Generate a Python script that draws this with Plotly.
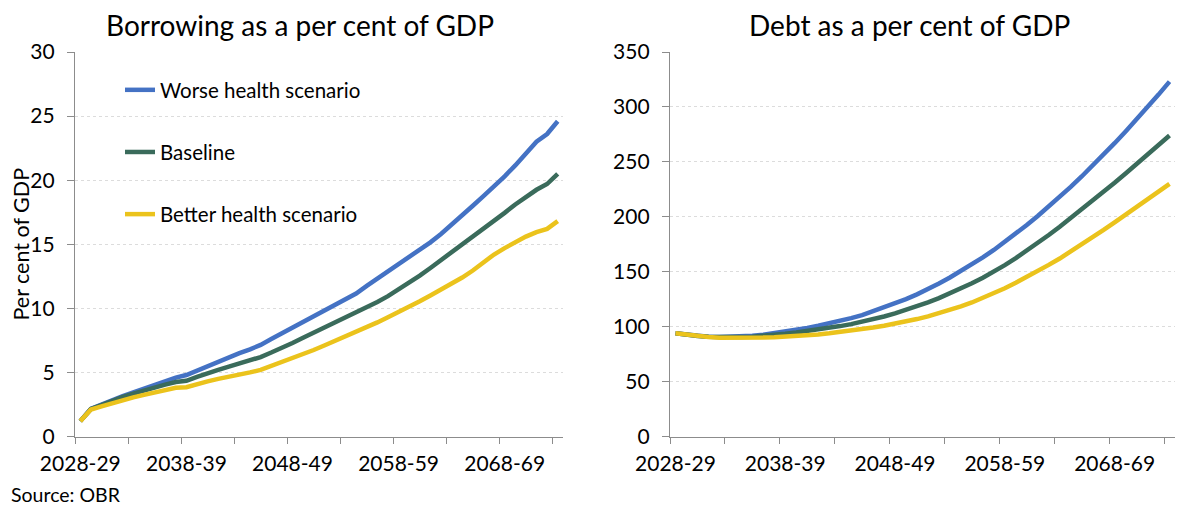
import plotly.graph_objects as go

years = ["2028-29", "2029-30", "2030-31", "2031-32", "2032-33", "2033-34", "2034-35", "2035-36",
         "2036-37", "2037-38", "2038-39", "2039-40", "2040-41", "2041-42", "2042-43", "2043-44",
         "2044-45", "2045-46", "2046-47", "2047-48", "2048-49", "2049-50", "2050-51", "2051-52",
         "2052-53", "2053-54", "2054-55", "2055-56", "2056-57", "2057-58", "2058-59", "2059-60",
         "2060-61", "2061-62", "2062-63", "2063-64", "2064-65", "2065-66", "2066-67", "2067-68",
         "2068-69", "2069-70", "2070-71", "2071-72", "2072-73", "2073-74"]

series_names = ["Worse health scenario", "Baseline", "Better health scenario"]

borrow_worse = [1.2, 2.15, 2.5, 2.85, 3.15, 3.45, 3.75, 4.05, 4.35, 4.6,
                4.8, 5.15, 5.5, 5.85, 6.2, 6.5, 6.8, 7.15, 7.6, 8.05,
                8.5, 8.95, 9.4, 9.85, 10.25, 10.65, 11.15, 11.75, 12.3, 12.85,
                13.4, 13.95, 14.55, 15.15, 15.8, 16.5, 17.25, 18.0, 18.75, 19.5,
                20.3, 21.15, 22.1, 23.0, 23.6, 24.6]
borrow_base = [1.2, 2.15, 2.45, 2.8, 3.1, 3.35, 3.6, 3.85, 4.05, 4.25,
               4.35, 4.65, 4.95, 5.2, 5.45, 5.7, 5.95, 6.2, 6.55, 6.9,
               7.3, 7.7, 8.1, 8.5, 8.9, 9.3, 9.7, 10.05, 10.5, 10.95,
               11.45, 12.0, 12.55, 13.15, 13.75, 14.35, 14.95, 15.6, 16.2, 16.85,
               17.45, 18.1, 18.7, 19.25, 19.7, 20.5]
borrow_better = [1.2, 2.1, 2.35, 2.6, 2.85, 3.05, 3.25, 3.45, 3.65, 3.8,
                 3.85, 4.1, 4.3, 4.5, 4.65, 4.8, 5.0, 5.2, 5.5, 5.8,
                 6.1, 6.4, 6.75, 7.1, 7.45, 7.8, 8.15, 8.5, 8.9, 9.3,
                 9.7, 10.1, 10.55, 11.0, 11.45, 11.9, 12.4, 12.95, 13.6, 14.2,
                 14.7, 15.2, 15.6, 15.95, 16.2, 16.8]

debt_worse = [94.0, 92.6, 91.5, 90.8, 90.5, 90.6, 91.0, 91.7, 92.7, 94.0,
              95.5, 97.1, 98.9, 100.8, 102.9, 105.2, 107.7, 110.5, 113.9, 117.3,
              121.0, 125.0, 129.4, 134.1, 139.2, 144.7, 150.5, 156.6, 163.0, 169.8,
              177.0, 184.6, 192.5, 200.7, 209.2, 218.0, 227.2, 236.7, 246.5, 256.6,
              267.0, 277.7, 288.6, 299.7, 311.2, 323.0]
debt_base = [94.0, 92.5, 91.4, 90.7, 90.3, 90.3, 90.5, 90.9, 91.5, 92.4,
             93.5, 94.7, 96.0, 97.4, 98.9, 100.5, 102.3, 104.3, 106.6, 109.2,
             112.0, 115.1, 118.5, 122.1, 126.0, 130.2, 134.7, 139.5, 144.6, 150.1,
             156.0, 162.4, 169.1, 176.0, 183.4, 191.0, 198.8, 206.7, 214.7, 222.8,
             231.0, 239.4, 247.9, 256.5, 265.2, 274.0]
debt_better = [94.0, 92.5, 91.3, 90.5, 90.0, 89.8, 89.8, 89.9, 90.1, 90.4,
               90.8, 91.4, 92.1, 92.9, 93.9, 95.0, 96.3, 97.7, 99.2, 100.8,
               102.5, 104.6, 106.9, 109.4, 112.1, 115.0, 118.4, 122.0, 126.0, 130.4,
               135.0, 140.0, 145.1, 150.5, 156.2, 162.0, 168.3, 174.7, 181.3, 188.1,
               195.0, 201.9, 208.9, 215.9, 222.9, 230.0]

label_every = 10
tick_every = 5

colors = ["#4472C4", "#3A6B5B", "#EBC31C"]
FONT = "Lato"
GRID = "#DCDCDC"
AXIS = "#8C8C8C"

idx = list(range(len(years)))
tickvals = idx[::label_every]
ticktext = [years[i] for i in tickvals]
minor_vals = [i - 0.5 for i in idx[::tick_every]]

fig = go.Figure()

for name, ys, col in zip(series_names, [borrow_worse, borrow_base, borrow_better], colors):
    fig.add_trace(go.Scatter(x=idx, y=ys, name=name, mode="lines",
                             line=dict(color=col, width=4.5), legendgroup=name,
                             xaxis="x", yaxis="y"))
for name, ys, col in zip(series_names, [debt_worse, debt_base, debt_better], colors):
    fig.add_trace(go.Scatter(x=idx, y=ys, name=name, mode="lines",
                             line=dict(color=col, width=4.5), legendgroup=name,
                             showlegend=False, xaxis="x2", yaxis="y2"))

# The page body adds an 8px offset; figure coords = screen coords - 8
OFF = 8
W, H = 1200 - OFF, 509 - OFF

def px_x(v):
    return (v - OFF) / W

def px_y(v):
    return 1 - (v - OFF) / H

ydom = [px_y(436.5), px_y(52)]

def xaxis_cfg(dom, anchor):
    return dict(domain=dom, anchor=anchor, range=[-0.5, len(years) - 0.5],
                tickvals=tickvals, ticktext=ticktext, ticks="", showgrid=False,
                zeroline=False, showline=True, linecolor=AXIS, linewidth=1.3,
                automargin=False, ticklabelstandoff=8,
                tickfont=dict(family=FONT, size=21, color="#000000"),
                minor=dict(tickvals=minor_vals, ticks="outside", ticklen=6,
                           tickcolor=AXIS, tickwidth=1.3, showgrid=False))

def yaxis_cfg(anchor, rng, dt):
    return dict(domain=ydom, anchor=anchor, range=rng, dtick=dt, tick0=0,
                showgrid=True, gridcolor=GRID, griddash="dot", gridwidth=1,
                zeroline=False, showline=True, linecolor=AXIS, linewidth=1.3,
                ticks="outside", ticklen=7, tickcolor=AXIS, tickwidth=1.3,
                automargin=False, ticklabelstandoff=8,
                tickfont=dict(family=FONT, size=21, color="#000000"))

fig.update_layout(
    width=W, height=H,
    margin=dict(l=0, r=0, t=0, b=0, autoexpand=False),
    paper_bgcolor="white", plot_bgcolor="white",
    font=dict(family=FONT, color="#000000"),
    xaxis=xaxis_cfg([px_x(75), px_x(563)], "y"),
    yaxis=dict(**yaxis_cfg("x", [0, 30], 5),
               title=dict(text="Per cent of GDP", standoff=0,
                          font=dict(family=FONT, size=21.5))),
    xaxis2=xaxis_cfg([px_x(670), px_x(1175)], "y2"),
    yaxis2=yaxis_cfg("x2", [0, 350], 50),
    showlegend=True,
    legend=dict(x=px_x(120), y=px_y(70), xanchor="left", yanchor="top",
                bgcolor="rgba(0,0,0,0)", tracegroupgap=32.5,
                font=dict(family=FONT, size=20.5, color="#000000")),
    annotations=[
        dict(text="Borrowing as a per cent of GDP", x=px_x(300), y=px_y(25),
             xref="paper", yref="paper", showarrow=False, xanchor="center",
             yanchor="middle", font=dict(family=FONT, size=28, color="#000000")),
        dict(text="Debt as a per cent of GDP", x=px_x(909), y=px_y(25),
             xref="paper", yref="paper", showarrow=False, xanchor="center",
             yanchor="middle", font=dict(family=FONT, size=28, color="#000000")),
        dict(text="Source: OBR", x=px_x(8.5), y=px_y(494), xref="paper", yref="paper",
             showarrow=False, xanchor="left", yanchor="middle",
             font=dict(family=FONT, size=19.5, color="#000000")),
    ],
)

fig.write_html("out.html")
